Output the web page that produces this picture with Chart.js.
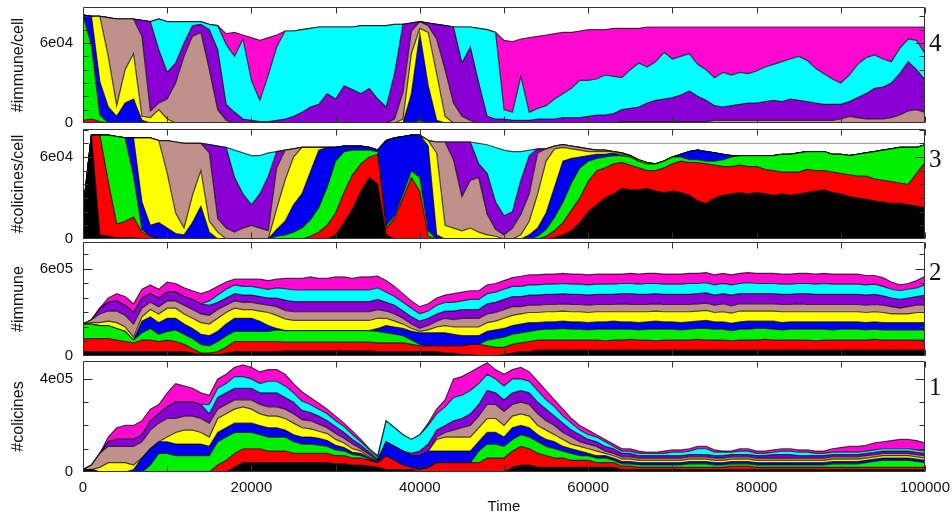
<!DOCTYPE html>
<html><head><meta charset="utf-8">
<script src="https://cdn.jsdelivr.net/npm/chart.js@4"></script>
<style>
html,body{margin:0;padding:0;background:#fff;width:952px;height:518px;overflow:hidden;position:relative;}
canvas{position:absolute;left:0;}
.num{position:absolute;left:929px;font-family:'Liberation Serif','Times New Roman',serif;font-size:25px;line-height:25px;color:#111;}
</style></head><body>
<canvas id="p4" width="952" height="136" style="top:-3px"></canvas>
<canvas id="p3" width="952" height="130" style="top:119px"></canvas>
<canvas id="p2" width="952" height="134" style="top:232px"></canvas>
<canvas id="p1" width="952" height="167" style="top:351px"></canvas>
<div class="num" style="top:30px">4</div>
<div class="num" style="top:146px">3</div>
<div class="num" style="top:259px">2</div>
<div class="num" style="top:374px">1</div>
<script>
// Time in thousands of steps
const TIME_K = [0,1,2,3,4,5,6,7,8,9,10,11,12,13,14,15,16,17,18,19,20,21,22,23,24,25,26,27,28,29,30,31,32,33,34,35,36,37,38,39,40,41,42,43,44,45,46,47,48,49,50,51,52,53,54,55,56,57,58,59,60,61,62,63,64,65,66,67,68,69,70,71,72,73,74,75,76,77,78,79,80,81,82,83,84,85,86,87,88,89,90,91,92,93,94,95,96,97,98,99,100];
const X_TICK_VALUES = [0,20,40,60,80,100];
const X_TICK_LABELS = ['0','20000','40000','60000','80000','100000'];
const X_MINOR = [10,30,50,70,90];

// Panel 4: #immune/cell (units of 1e3)
const P4_RED = [2,3,1,0,0,0,0,0,0,0,
0,0,0,0,0,0,0,0,0,0, 0,0,0,0,0,0,0,0,0,0, 0,0,0,0,0,0,0,0,0,0, 0,0,0,0,0,0,0,0,0,0,
0,0,0,0,0,0,0,0,0,0, 0,0,0,0,0,0,0,0,0,0, 0,0,0,0,0,0,0,0,0,0, 0,0,0,0,0,0,0,0,0,0, 0,0,0,0,0,0,0,0,0,0, 0];
const P4_GREEN = [79,55,5,0,0,0,0,0,0,0,
0,0,0,0,0,0,0,0,0,0, 0,0,0,0,0,0,0,0,0,0, 0,0,0,0,0,0,0,0,0,0, 2,0,0,0,0,0,0,0,0,0,
0,0,0,0,0,0,0,0,0,0, 0,0,0,0,0,0,0,0,0,0, 0,0,0,0,0,0,0,0,0,0, 0,0,0,0,0,0,0,0,0,0, 0,0,0,0,0,0,0,0,0,0, 0];
const P4_BLUE = [0,22,25,12,5,15,18,2,0,0,
0,0,0,0,0,0,0,0,0,0, 0,0,0,0,0,0,0,0,0,0, 0,0,0,0,0,0,0,0,0,22, 65,28,2,0,0,0,0,0,0,0,
0,0,0,0,0,0,0,0,0,0, 0,0,0,0,0,0,0,0,0,0, 0,0,0,0,0,0,0,0,0,0, 0,0,0,0,0,0,0,0,0,0, 0,0,0,0,0,0,0,0,0,0, 0];
const P4_YELLOW = [0,0,49,38,8,25,34,3,4,10,
3,0,0,0,0,0,0,0,0,0, 0,0,0,0,0,0,0,0,0,0, 0,0,0,0,0,0,0,0,3,30, 4,40,35,5,0,0,0,0,0,0,
0,0,0,0,0,0,0,0,0,0, 0,0,0,0,0,0,0,0,0,0, 0,0,0,0,0,0,0,0,0,0, 0,0,0,0,0,0,0,0,0,0, 0,0,0,0,0,0,0,0,0,0, 0];
const P4_TAN = [0,0,0,29,65,38,26,60,5,5,
15,30,50,65,68,40,10,2,0,0, 0,0,0,0,0,0,0,0,0,0, 0,0,0,0,0,0,0,3,20,17, 5,5,26,35,15,5,2,0,0,0,
0,0,0,0,0,0,0,0,0,0, 0,0,0,0,1,1,1,1,1,1, 1,1,1,1,1,2,2,2,2,2, 2,2,2,2,2,2,2,2,2,2, 3,5,4,3,3,3,4,6,9,10, 8];
const P4_PURPLE = [0,0,0,0,0,0,0,12,67,40,
20,15,10,8,6,30,45,12,8,3, 2,1,1,2,3,5,8,12,14,22, 18,28,25,22,26,18,12,34,51,6, 0,2,11,33,57,40,55,30,5,3,
3,2,2,2,3,3,3,4,4,4, 5,6,6,7,9,10,11,14,16,17, 18,20,23,19,16,11,10,11,12,13, 13,14,15,14,16,15,14,13,12,12, 11,11,15,19,23,24,26,31,37,30, 24];
const P4_CYAN = [0,0,0,0,0,0,0,0,0,23,
38,31,16,3,2,4,18,45,42,60, 30,16,35,55,66,64,62,59,58,50, 54,44,47,51,47,55,61,37,0,0, 0,0,0,0,0,27,15,41,65,65,
7,6,33,6,8,10,15,18,22,28, 27,27,30,28,24,29,33,27,29,35, 29,29,28,24,23,21,26,23,24,22, 24,26,27,30,30,33,31,26,23,19, 16,20,25,27,25,21,16,19,17,22, 20];
const P4_MAGENTA = [0,0,0,0,0,0,0,0,0,0,
0,0,0,0,0,0,0,8,18,3, 32,45,28,9,0,0,0,0,0,0, 0,0,0,0,0,0,0,0,0,0, 0,0,0,0,0,0,0,0,0,0,
52,53,28,56,54,53,49,46,42,37, 38,37,34,36,37,31,26,30,26,19, 24,22,20,28,32,38,34,36,34,35, 33,30,28,26,24,22,25,31,35,39, 42,36,28,23,21,24,26,16,9,10, 20];

// Panel 3: #colicines/cell (units of 1e3)
const P3_BLACK = [20,76,3,2,1,1,1,0,0,0,
0,0,0,0,0,0,0,0,0,0, 0,0,0,0,0,0,0,0,0,0, 3,12,22,35,45,40,3,0,0,0, 0,0,0,0,0,0,0,0,0,0,
0,0,0,0,0,0,1,3,6,12, 20,25,30,33,37,36,36,37,35,34, 35,34,32,28,26,30,32,33,34,33, 34,33,32,33,32,33,34,35,36,34, 33,31,30,29,28,27,26,26,25,24, 23];
const P3_RED = [0,0,73,40,10,12,15,5,2,0,
0,0,0,0,0,0,0,0,0,0, 0,0,0,0,0,0,0,2,5,10, 16,22,25,20,15,22,5,15,30,45, 35,2,0,0,0,0,0,0,0,0,
0,0,0,0,0,2,5,9,15,18, 22,25,22,22,19,18,16,13,15,18, 20,23,24,28,29,24,21,20,20,20, 19,18,18,16,17,16,17,15,14,15, 15,16,16,17,16,16,16,15,15,24, 33];
const P3_GREEN = [0,0,0,34,64,61,30,2,0,0,
0,0,0,0,0,0,0,0,0,0, 0,0,0,2,3,5,8,12,18,28, 38,30,18,10,5,2,2,2,3,5, 10,4,0,0,0,0,0,0,0,0,
0,0,0,0,2,5,10,15,20,22, 15,9,8,6,5,6,5,5,5,5, 5,3,2,2,2,3,5,7,7,8, 8,10,11,13,13,14,13,14,14,13, 14,14,16,17,20,22,24,26,27,19, 13];
const P3_BLUE = [0,0,0,0,0,0,28,20,8,12,
8,4,3,12,24,5,0,0,0,0, 0,0,0,5,10,20,25,35,42,29, 10,4,3,3,2,1,62,57,42,26, 31,62,3,0,0,0,0,0,0,0,
0,0,0,3,6,12,22,30,18,8, 4,3,2,2,0,0,0,0,0,0, 0,2,6,7,7,6,4,1,0,0, 0,0,0,0,0,0,0,0,0,0, 0,0,0,0,0,0,0,0,0,0, 0];
const P3_YELLOW = [0,0,0,0,0,0,0,47,64,60,
40,15,5,20,26,8,5,0,0,0, 0,0,0,15,30,35,34,18,2,0, 0,0,0,0,0,0,0,0,0,0, 0,4,60,10,8,6,8,5,3,2,
0,0,3,10,25,38,28,10,7,5, 3,2,2,1,1,1,1,1,0,0, 0,0,0,0,0,0,0,0,0,0, 0,0,0,0,0,0,0,0,0,0, 0,0,0,0,0,0,0,0,0,0, 0];
const P3_TAN = [0,0,0,0,0,0,0,0,0,0,
24,52,62,38,20,50,10,8,5,8, 10,8,6,30,22,6,0,0,0,0, 0,0,0,0,0,0,0,0,0,0, 0,0,8,61,50,25,35,40,15,5,
3,8,15,20,30,9,2,2,2,2, 2,1,1,0,1,0,0,0,0,0, 0,0,0,0,0,0,0,0,0,0, 0,0,0,0,0,0,0,0,0,0, 0,0,0,0,0,0,0,0,0,0, 0];
const P3_PURPLE = [0,0,0,0,0,0,0,0,0,0,
0,0,0,0,0,6,53,59,40,25, 15,25,40,12,0,0,0,0,0,0, 0,0,0,0,0,0,0,0,0,0, 0,0,0,0,13,40,28,10,30,20,
14,12,25,28,3,0,0,0,0,0, 0,0,0,0,0,0,0,0,0,0, 0,0,0,0,0,0,0,0,0,0, 0,0,0,0,0,0,0,0,0,0, 0,0,0,0,0,0,0,0,0,0, 0];
const P3_CYAN = [0,0,0,0,0,0,0,0,0,0,
0,0,0,0,0,0,0,0,20,30, 36,28,17,0,0,0,0,0,0,0, 0,0,0,0,0,0,0,0,0,0, 0,0,0,0,0,0,0,15,21,40,
48,44,21,4,0,0,0,0,0,0, 0,0,0,0,0,0,0,0,0,0, 0,0,0,0,0,0,0,0,0,0, 0,0,0,0,0,0,0,0,0,0, 0,0,0,0,0,0,0,0,0,0, 0];
// thin grey reference trace across the right part of panel 3
const P3_TRACE = [null,null,null,null,null,null,null,null,null,null,
null,null,null,null,null,null,null,null,null,null, null,null,null,null,null,null,null,null,null,null,
null,null,null,null,null,null,null,null,null,null, null,null,null,null,null,null,null,null,null,null,
null,null,null,null,null,null,null,null,null,null,
70,70,70,70,70,70,70,70,70,70, 70,70,70,70,70,70,70,70,70,70, 70,70,70,70,70,70,70,70,70,70, 70,70,70,70,70,70,70,70,70,70, 70];

// Panel 2: #immune (units of 1e4)
const P2_BLACK = [3,3,3,3,3,3,3,3,3,3,
3,3,3,2,1,1,1,2,3,3, 3,3,3,3,3.5,3.5,3.5,3.5,3.5,3.5, 3.5,3.5,3.5,3.5,3.5,3,3,3,3,3, 3,3,3,2,2,1,1,0,0,0,
1,2,3,3,4,4,4,4,4,4, 4,4,4,4,4,4,4,4,4,4, 4,4,4,4,4,4,4,4,4,4, 4,4,4,4,4,4,4,4,4,4, 4,4,4,4,4,4,4,4,4,4, 4];
const P2_RED = [9,9,9,9,8,7,6,8,8,7,
8,7,5,3,1,1,2,4,7,7, 7,7,7,7,6,6,6,6,6,6, 6,6,6,6,6,6,6,6,6,5, 4,4,4,5,5,6,7,8,7,6,
5,6,6,7,7,7,7,7,7,7, 7,7,6.5,7,7,7.5,7,7,6.5,7, 7,7,7,7.5,7,7,7,6.5,7,7, 7,7.5,7,7,7,7,7,6.5,7,7, 7,7,7,7,7.5,7,7,7,7,7, 7];
const P2_GREEN = [10,10,9,9,8,7,2,5,8,5,
6,8,7,7,6,5,7,8,7,7, 7,7,7,8,8,8,8,8,8,8, 8,8,8,8,8,8,7,6,5,3, 1,0,0,0,0,0,0,0,4,6,
7,7,7,7,7,7.5,7.5,8,7.5,7.5, 7,7.5,8,7.5,7.5,7,7,7.5,8,7.5, 7.5,7,7.5,7.5,8,7.5,7.5,7,7.5,7.5, 8,7.5,7.5,7,7.5,7.5,7.5,8,7.5,7, 7.5,7.5,7.5,7,7,7,7,7,7,7, 7];
const P2_BLUE = [0,0,0,0,0,0,0,8,8,8,
9,8,7,7,7,7,7,8,9,9, 9,7,4,1,0,0,0,0,0,0, 0,0,0,0,0,2,5,5,5,6, 8,9,9,9,8,7,6,6,6,6,
6,6,6,6,5,5,5,5,5,5, 5,5,5,5.5,5,5,5,5,5.5,5, 5,5,5,5,5.5,5,5,5,5,5.5, 5,5,5.5,5,5,5,5,5,5,5.5, 5,5,5,5,5,5,5,5,5,5, 5];
const P2_YELLOW = [0,1,2,3,4,3,2,3,5,6,
7,7,7,7,8,8,9,8,7,6, 6,7,9,9,8,7,7,7,7,7, 7,7,7,7,7,7,5,4,3,2, 1,2,4,5,5,6,6,6,6,6,
7,7,7,7,7,7,7,7,7,7, 7,7,7,6.5,7,7,7.5,7,7,7, 7,7.5,7,7,7,6.5,7,7,7.5,7, 7,7,7,7.5,7,7,7,7,7,7, 7,7,7,7,7,7,6,6,6,7, 7];
const P2_TAN = [0,2,6,7,8,8,9,6,5,5,
5,5,6,6,6,6,6,5,5,5, 5,5,5,6,6,6,6,6,6,6, 6,6,6,6,6,6,5,5,4,3, 2,3,4,5,5,6,6,6,6,6,
6,6,5,5,5,5,5,5,5,5, 5,5,5,5,5.5,5,5,5,5,5, 5,5,5,5,5,5,5.5,5,5,5, 5,5,5,5,5,5.5,5,5,5,5, 5,5,5,5,5,5,5,4,5,5, 5];
const P2_PURPLE = [0,0,4,6,7,7,8,7,6,6,
6,6,6,7,7,7,5,5,5,5, 5,5,5,6,7,7,7,7,7,7, 7,7,7,7,7,7,6,6,5,5, 5,5,5,5,6,6,6,6,7,7,
7,7,7,7,7,7,7,7,7,7, 7,7,7,7,7,7.5,7,7,7,7, 7,7,7,7,7,7,7,7.5,7,7, 7,7,7,7,7,7,7.5,7,7,7, 7,7,7,7,7,6.5,6,6,6,6, 7];
const P2_CYAN = [0,0,0,0,0,0,0,0,0,0,
0,0,0,0,0,3,5,6,6,6, 6,6,6,7,8,8,8,8,8,8, 8,8,8,8,8,8,7,6,6,6, 5,5,6,6,6,6,7,7,7,7,
7,7,7,7,7,7,7,7,7,7, 7,7,7,7,7,7,7,7.5,7,7, 7,7,7.5,7,7,7,7,7,7,7.5, 7,7,7,7,7,7,7,7,7.5,7, 7,7,7,7,7,6.5,6,6,6,6, 7];
const P2_MAGENTA = [0,0,0,3,5,6,6,6,6,6,
7,6,6,6,7,7,6,5,4,5, 5,6,6,6,7,8,8,9,8,8, 9,9,8,9,9,8,8,7,6,5, 5,5,5,5,6,6,6,6,6,6,
6,6,7,7,7,7,7,7,7,7, 7,7,7,7,6.5,7,7,7,7,7, 7,7,7,7,7,7,7,7,7,7, 7,7,7,7,7,7,7,7,7,7, 7,7,7,6.5,6,6,5,4,4,5, 6];

// Panel 1: #colicines (units of 1e4)
const P1_BLACK = [1,1,0,0,0,0,0,0,0,0,
0,0,0,0,0,0,0,0,2,4, 4,4,4,4,4,4,4,4,4,4, 3.5,3.5,3,3,2.5,2,1,1,1,1, 0,0,0,0,0,0,0,0,0,0,
0,2,3,3,2,2,2,2,2,2, 2,2,2,2,1,1,1,1,1,1, 1,1,1,1,1,1,1,1,1,1, 1,1,1,1,1,1,1,1,1,1, 1,1,1,1,1,1,1,1,1,1, 1];
const P1_RED = [0,0,0,0,0,0,0,0,0,0,
0,0,0,0,0,0,3,5,6,6, 6,6,5,5,5,4,4,4,4,4, 3.5,3.5,3,3,2.5,2,6,4,2,1, 1,2,4,4,4,4,4,4,6,6,
6,7,8,7,6,5,4,4,3,3, 3,2,2,2,1.5,1.5,1,1,1,1, 1,1,1,1,1,1,1,1.5,1.5,1.5, 1,1,1,1,1,1,1,1,1,1, 1,1,1,1,1,1,1,1,1,1, 1];
const P1_GREEN = [0,0,0,0,0,0,0,0,3,8,
8,7,7,7,7,7,10,10,9,7, 7,6,6,6,6,5,4,4,3.5,3, 2.5,2,1.5,1,0.5,0,0,0,0,0, 0,0,0,0,0,0,0,5,6,6,
5,5,5,5,5,4,4,3,3,2, 2,2,2,1,1,1,1,1,1,1, 1,1,1.5,1.5,1.5,1,1,1,1,1, 1,1,1,1,1,1,1,1,1,1.5, 1.5,1.5,1.5,2,2.5,3,3,3,3,2.5, 2];
const P1_BLUE = [0,0,0,0,0,0,1,6,7,5,
5,5,5,5,5,4,4,4,4,4, 4,4,4,4,3,3,3,3,3,2.5, 2,1.5,1,1,0.5,0.5,6,6,6,5, 6,7,5,5,5,5,5,4,5,5,
4,5,4,4,3,3,3,2,2,2, 1,1,1,1,1,1,1,1,1,1, 1,1,1,1,1,1,1,1,1,1, 1,1,1,1,1,1,1,1,1,1, 1,1,1,1,1,1,1,1,1,1, 1];
const P1_YELLOW = [0,0,2,4,4,4,2,0,0,0,
2,5,6,6,5,4,6,6,6,7, 6,5,5,5,5,5,4,3.5,3,3, 2.5,2,1.5,1,0.5,0,0,0,0,0, 0,0,5,6,6,6,6,6,6,6,
5,5,5,5,4,4,3,3,2,2, 2,2,1,1,1,1,1,1,1,1, 1,1,1,1,1,1,1,1,1,1, 1,1,1,1,1,1,1,1,1,1, 1,1,1,1,1,1,1,1,1,1, 1];
const P1_TAN = [0,2,6,7,7,7,8,7,8,8,
8,6,6,6,6,6,4,4,4,3, 4,4,4,4,4,4,3.5,3.5,3,2.5, 2.5,2,2,1,1,0.5,0,0,0,0, 0,0,1,2,3,4,5,5,6,6,
6,5,5,5,5,4,4,3,3,2, 2,2,1,1,1,1,1,1,1,1, 1,1,1,1,1,1,1,1,1,1, 1,1,1,1,1,1,1,1,1,1, 1,1,1,1,1,1,1,1,1,1, 1];
const P1_PURPLE = [0,0,0,2,3,3,3,3,4,4,
5,7,6,6,6,4,5,5,5,5, 5,5,6,6,5,5,4,3.5,3.5,3, 3,2.5,2,1.5,1,0.5,0,0,0,1, 2,3,3,3,4,4,5,5,6,5,
5,5,5,5,5,5,4,4,3,3, 2,2,2,2,1.5,1.5,1,1,1,1, 1,1,1,1,1,1,1,1,1,1, 1,1,1.5,1.5,1.5,1,1,1,1,1, 1,1,1,1,1,1,1,1,1,1, 1];
const P1_CYAN = [0,0,0,0,0,0,0,0,0,0,
0,0,0,0,0,4,4,4,5,5, 4,4,5,5,5,4,4,3.5,3,3, 2.5,2.5,2,1.5,1,1,9,8,7,6, 7,8,7,8,10,10,10,9,7,6,
6,6,5,5,5,4,4,3,3,2, 2,2,2,1,1,1,1,1,1,1, 1.5,1.5,1.5,2.5,2.5,1.5,1.5,1,1.5,1.5, 1,1,1,1.5,1.5,1.5,1.5,1,1,1, 1,1,1,1,1,1,1,1,1,1, 1];
const P1_MAGENTA = [0,0,0,2,5,6,6,6,5,4,
6,8,7,6,5,4,4,4,4,5, 5,5,5,5,5,4,4,3,2.5,2, 2,1.5,1.5,1,0.5,0.5,0,0,0,0, 0,1,2,3,8,8,8,7,5,4,
5,4,5,4,4,4,3,3,2,2, 2,1,1,1,1,1,1,0.5,0.5,1, 1,1,1,1,1,1,0.5,0.5,1,1, 1,1,1,1,1,1,1,1,1,1.5, 2,2.5,2.5,2.5,3,3,3.5,4,4,4, 3.5];

const COLORS = {
  black:'#000000', red:'#ff0000', green:'#00f000', blue:'#0000f0', yellow:'#ffff00',
  tan:'#c0908a', purple:'#8a00d4', cyan:'#00ffff', magenta:'#ff08d0'
};

const PANELS = [
  {id:'p4', title:'#immune/cell', max:87, bottom:false,
   yVals:[0,60], yLabels:['0','6e04'], yMinor:[10,20,30,40,50,70,80],
   series:[['red',P4_RED],['green',P4_GREEN],['blue',P4_BLUE],['yellow',P4_YELLOW],['tan',P4_TAN],['purple',P4_PURPLE],['cyan',P4_CYAN],['magenta',P4_MAGENTA]]},
  {id:'p3', title:'#colicines/cell', max:80.5, bottom:false, trace:P3_TRACE,
   yVals:[0,60], yLabels:['0','6e04'], yMinor:[10,20,30,40,50,70,80],
   series:[['black',P3_BLACK],['red',P3_RED],['green',P3_GREEN],['blue',P3_BLUE],['yellow',P3_YELLOW],['tan',P3_TAN],['purple',P3_PURPLE],['cyan',P3_CYAN]]},
  {id:'p2', title:'#immune', max:78.6, bottom:false,
   yVals:[0,60], yLabels:['0','6e05'], yMinor:[10,20,30,40,50,70],
   series:[['black',P2_BLACK],['red',P2_RED],['green',P2_GREEN],['blue',P2_BLUE],['yellow',P2_YELLOW],['tan',P2_TAN],['purple',P2_PURPLE],['cyan',P2_CYAN],['magenta',P2_MAGENTA]]},
  {id:'p1', title:'#colicines', max:47.7, bottom:true,
   yVals:[0,40], yLabels:['0','4e05'], yMinor:[10,20,30],
   series:[['black',P1_BLACK],['red',P1_RED],['green',P1_GREEN],['blue',P1_BLUE],['yellow',P1_YELLOW],['tan',P1_TAN],['purple',P1_PURPLE],['cyan',P1_CYAN],['magenta',P1_MAGENTA]]}
];

const FONT = "'Liberation Sans', Arial, sans-serif";

const boxPlugin = {
  id:'box',
  afterDatasetsDraw(chart, args, opts) {
    const {ctx, chartArea:a, scales:{x, y}} = chart;
    ctx.save();
    ctx.strokeStyle = '#333';
    ctx.lineWidth = 1;
    ctx.beginPath();
    const L = Math.round(a.left)+0.5, R = Math.round(a.right)-0.5, T = Math.round(a.top)+0.5, B = Math.round(a.bottom)-0.5;
    ctx.rect(L, T, R-L, B-T);
    const xt = X_TICK_VALUES.concat(X_MINOR);
    for (const v of xt) {
      const px = Math.round(x.getPixelForValue(v))+0.5;
      ctx.moveTo(px, T); ctx.lineTo(px, T+6);
      ctx.moveTo(px, B); ctx.lineTo(px, B-6);
    }
    for (const v of opts.major) {
      const py = Math.round(y.getPixelForValue(v))+0.5;
      ctx.moveTo(L, py); ctx.lineTo(L+9, py);
      ctx.moveTo(R, py); ctx.lineTo(R-9, py);
    }
    for (const v of opts.minor) {
      const py = Math.round(y.getPixelForValue(v))+0.5;
      ctx.moveTo(L, py); ctx.lineTo(L+5, py);
      ctx.moveTo(R, py); ctx.lineTo(R-5, py);
    }
    ctx.stroke();
    ctx.restore();
  }
};

for (const P of PANELS) {
  const datasets = P.series.map(([c, arr], i) => ({
    label: c,
    data: arr,
    backgroundColor: COLORS[c],
    borderColor: 'rgba(0,0,0,0.7)',
    borderWidth: 1.2,
    fill: i === 0 ? 'origin' : '-1',
    pointRadius: 0,
    tension: 0,
    stack: 'areas'
  }));
  if (P.trace) {
    datasets.push({
      label: 'trace', data: P.trace, stack: 'trace', fill: false,
      borderColor: 'rgba(120,120,120,0.8)', borderWidth: 1, pointRadius: 0, tension: 0
    });
  }
  const labelMap = {};
  P.yVals.forEach((v, i) => labelMap[v] = P.yLabels[i]);
  new Chart(document.getElementById(P.id), {
    type: 'line',
    data: { labels: TIME_K, datasets },
    plugins: [boxPlugin],
    options: {
      responsive: false,
      animation: false,
      devicePixelRatio: 1,
      layout: { padding: { top: 10, bottom: P.bottom ? 0 : 10, left: 0, right: 27 } },
      plugins: {
        legend: { display: false },
        tooltip: { enabled: false },
        box: { major: P.yVals.filter(v => v > 0), minor: P.yMinor }
      },
      scales: {
        x: {
          type: 'linear', min: 0, max: 100,
          display: P.bottom,
          grid: { display: false, drawTicks: true, tickLength: 7 },
          border: { display: false },
          afterBuildTicks: s => { s.ticks = X_TICK_VALUES.map(v => ({ value: v })); },
          afterFit: s => { if (P.bottom) s.height = 46; },
          ticks: {
            padding: 0, autoSkip: false, maxRotation: 0,
            color: '#111', font: { family: FONT, size: 15 },
            callback: v => X_TICK_LABELS[X_TICK_VALUES.indexOf(v)]
          },
          title: { display: P.bottom, text: 'Time', color: '#111', font: { family: FONT, size: 15 }, padding: { top: 2, bottom: 2 } }
        },
        y: {
          stacked: true, min: 0, max: P.max,
          grid: { display: false, drawTicks: true, tickLength: 10 },
          border: { display: false },
          afterBuildTicks: s => { s.ticks = P.yVals.map(v => ({ value: v })); },
          afterFit: s => { s.width = 83; },
          ticks: {
            padding: 0, autoSkip: false,
            color: '#111', font: { family: FONT, size: 15 },
            callback: v => labelMap[v]
          },
          title: { display: true, text: P.title, color: '#111', font: { family: FONT, size: 16 }, padding: { top: 9, bottom: 9 } }
        }
      }
    }
  });
}
</script>
</body></html>
